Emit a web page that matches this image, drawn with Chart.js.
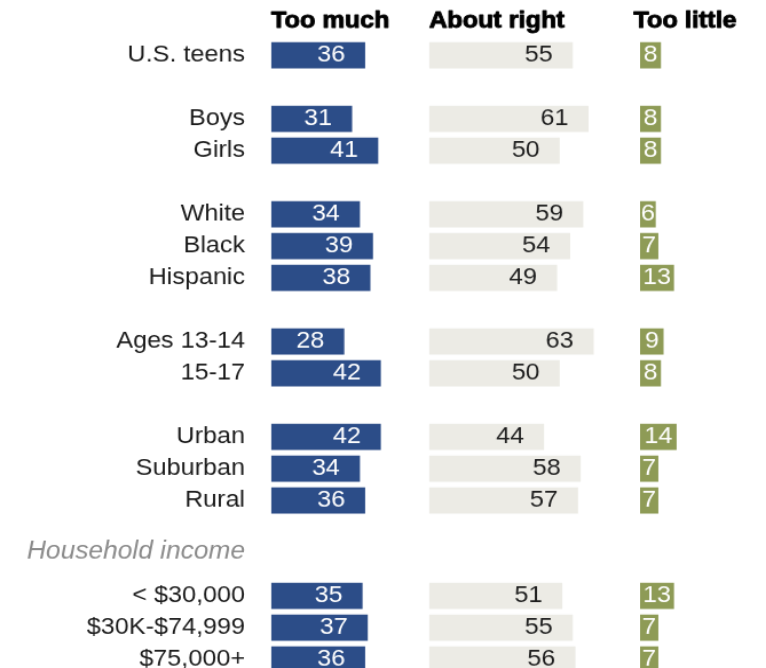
<!DOCTYPE html>
<html>
<head>
<meta charset="utf-8">
<script src="https://cdn.jsdelivr.net/npm/chart.js@4.4.1/dist/chart.umd.min.js"></script>
<style>
  html, body { margin: 0; padding: 0; background: #fff; }
  /* the drawing is widened slightly to give the type its wide, flat look */
  #wrap { width: 669px; height: 673px; transform: scale(1.145, 1.06); transform-origin: 0 0; }
</style>
</head>
<body>
<div id="wrap"><canvas id="chart" width="669" height="673"></canvas></div>
<script>
// ---- data ----
const categories = ['U.S. teens', 'Boys', 'Girls', 'White', 'Black', 'Hispanic',
  'Ages 13-14', '15-17', 'Urban', 'Suburban', 'Rural',
  '< $30,000', '$30K-$74,999', '$75,000+'];
const tooMuch    = [36, 31, 41, 34, 39, 38, 28, 42, 42, 34, 36, 35, 37, 36];
const aboutRight = [55, 61, 50, 59, 54, 49, 63, 50, 44, 58, 57, 51, 55, 56];
const tooLittle  = [8, 8, 8, 6, 7, 13, 9, 8, 14, 7, 7, 13, 7, 7];
const groupSizes = [1, 2, 3, 2, 3, 3];
const groupHeadings = ['', '', '', '', '', 'Household income'];
const columnTitles = ['Too much', 'About right', 'Too little'];
const columnMax = [60.4, 80.7, 34.4];

// ---- layout / style ----
const FONT = '"Liberation Sans", Arial, Helvetica, sans-serif';
const W = 669;
const chartLeft = 236.7;
const pxPerUnit = 2.284;
const labelPad = 22.7;
const headerHeight = 37.1;
const headerY = 20.2;
const colors = ['#2C4D88', '#ECEBE5', '#8E9B56'];
const labelColors = ['#ffffff', '#1e1e1e', '#ffffff'];
const labelModes = ['end', 'end', 'center'];
const titleAligns = ['left', 'left', 'center'];

// rows, with blank spacer rows between groups and a row for each subheading
const rowLabels = [];
const rowSource = [];
const headingRows = [];
let k = 0;
groupSizes.forEach((n, g) => {
  if (g > 0) { rowLabels.push(''); rowSource.push(-1); }
  if (groupHeadings[g]) {
    headingRows.push({ row: rowLabels.length, text: groupHeadings[g] });
    rowLabels.push(''); rowSource.push(-1);
  }
  for (let i = 0; i < n; i++) { rowLabels.push(categories[k]); rowSource.push(k); k++; }
});
const spread = arr => rowSource.map(i => (i < 0 ? null : arr[i]));

const series = [tooMuch, aboutRight, tooLittle];
const datasets = series.map((arr, i) => ({
  label: columnTitles[i],
  data: spread(arr),
  xAxisID: 'x' + i,
  yAxisID: 'y',
  backgroundColor: colors[i],
  borderWidth: 0,
  grouped: false,
  barPercentage: 0.82,
  categoryPercentage: 1,
  labelColor: labelColors[i],
  labelMode: labelModes[i]
}));

const scales = {
  y: {
    type: 'category',
    position: 'left',
    grid: { display: false, drawTicks: false },
    border: { display: false },
    ticks: {
      autoSkip: false,
      padding: labelPad,
      color: '#1a1a1a',
      font: { family: FONT, size: 22 }
    },
    afterFit: s => { s.width = chartLeft; }
  }
};
columnTitles.forEach((t, i) => {
  scales['x' + i] = {
    type: 'linear',
    position: 'top',
    stack: 'columns',
    stackWeight: columnMax[i],
    weight: columnTitles.length - i,   // keeps the columns in left-to-right order
    min: 0,
    max: columnMax[i],
    grid: { display: false, drawTicks: false },
    border: { display: false },
    ticks: { display: false },
    title: { display: false, text: t },
    afterFit: s => { s.height = headerHeight; }
  };
});

const totalUnits = columnMax.reduce((a, b) => a + b, 0);
const rightPad = W - chartLeft - totalUnits * pxPerUnit;

// column headers, value labels on the bars and group subheadings
const barLabels = {
  id: 'barLabels',
  afterDatasetsDraw(chart) {
    const ctx = chart.ctx;
    ctx.save();
    ctx.textBaseline = 'middle';

    // heavy column headers
    ctx.font = 'bold 22px ' + FONT;
    ctx.fillStyle = '#000';
    ctx.strokeStyle = '#000';
    ctx.lineWidth = 0.9;
    ctx.lineJoin = 'round';
    columnTitles.forEach((t, i) => {
      const s = chart.scales['x' + i];
      const x = titleAligns[i] === 'center' ? (s.left + s.right) / 2 : s.left;
      ctx.textAlign = titleAligns[i];
      ctx.fillText(t, x, headerY);
      ctx.strokeText(t, x, headerY);
    });

    ctx.font = '22px ' + FONT;
    chart.data.datasets.forEach((ds, di) => {
      const meta = chart.getDatasetMeta(di);
      meta.data.forEach((bar, i) => {
        const v = ds.data[i];
        if (v === null || v === undefined) return;
        ctx.fillStyle = ds.labelColor;
        if (ds.labelMode === 'center') {
          ctx.textAlign = 'center';
          ctx.fillText(String(v), (bar.x + bar.base) / 2, bar.y);
        } else {
          ctx.textAlign = 'right';
          ctx.fillText(String(v), bar.x - 17.5, bar.y);
        }
      });
    });

    const y = chart.scales.y;
    ctx.font = 'italic 23px ' + FONT;
    ctx.fillStyle = '#8a8a8a';
    ctx.textAlign = 'right';
    headingRows.forEach(h => {
      ctx.fillText(h.text, y.right - labelPad, y.getPixelForValue(h.row - 0.37));
    });
    ctx.restore();
  }
};

new Chart(document.getElementById('chart'), {
  type: 'bar',
  data: { labels: rowLabels, datasets },
  options: {
    indexAxis: 'y',
    responsive: false,
    animation: false,
    layout: { padding: { left: 0, top: 0, bottom: 0, right: rightPad } },
    plugins: { legend: { display: false }, tooltip: { enabled: false } },
    scales
  },
  plugins: [barLabels]
});
</script>
</body>
</html>
